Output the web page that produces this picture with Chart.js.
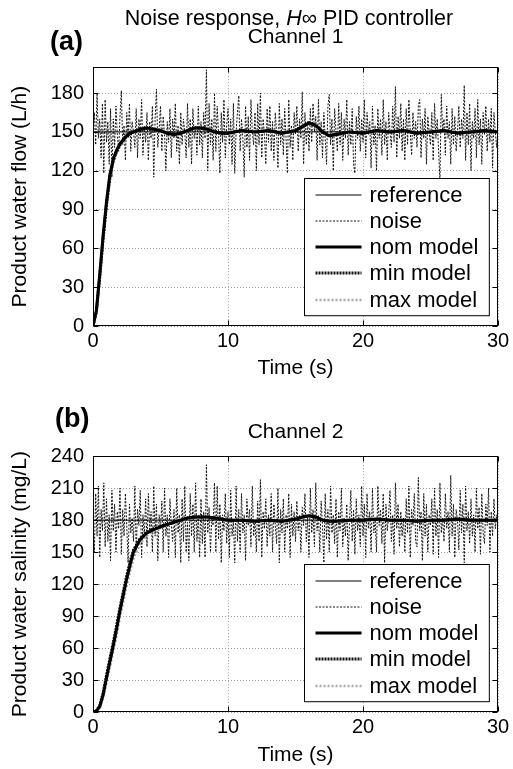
<!DOCTYPE html>
<html>
<head>
<meta charset="utf-8">
<script src="https://cdn.jsdelivr.net/npm/chart.js@4"></script>
<style>
  body { margin: 0; background: #fff; }
  #wrap { position: relative; width: 513px; height: 769px; font-family: "Liberation Sans", Arial, sans-serif; color: #000; }
  canvas { position: absolute; left: 0; }
  .lbl { position: absolute; white-space: nowrap; }
</style>
</head>
<body>
<div id="wrap">
  <canvas id="ch1" width="513" height="385" style="top:0"></canvas>
  <canvas id="ch2" width="513" height="384" style="top:385px"></canvas>
  <div class="lbl" style="left:93px;width:392px;top:6px;text-align:center;font-size:21.5px;line-height:25px">Noise response, <i>H</i>∞ PID controller</div>
  <div class="lbl" style="left:50px;top:25px;font-size:27px;font-weight:bold;line-height:32px">(a)</div>
  <div class="lbl" style="left:55px;top:402px;font-size:27px;font-weight:bold;line-height:32px">(b)</div>
</div>
<script>
// --- data ---

const seriesNames = ['reference', 'noise', 'nom model', 'min model', 'max model'];

const refTime = [0, 30];
const ch1Ref = [150, 150];
const ch2Ref = [180, 180];

// noise sampled every 0.1 s from t = 0 to 30 (one row per second)
const noiseStep = 0.1;
const ch1Noise = [
  150, 165, 140, 180, 145, 160, 130, 172, 118, 175,
  142, 158, 125, 168, 115, 160, 138, 170, 148, 135,
  162, 182, 140, 155, 128, 165, 145, 172, 135, 158,
  150, 138, 168, 130, 160, 145, 175, 132, 155, 142,
  165, 128, 158, 145, 170, 115, 160, 183, 138, 152,
  170, 135, 162, 148, 120, 158, 142, 168, 130, 160,
  145, 172, 135, 155, 125, 165, 140, 160, 150, 130,
  172, 138, 160, 125, 168, 145, 155, 132, 170, 140,
  158, 130, 165, 145, 198, 120, 172, 140, 160, 128,
  180, 135, 170, 148, 118, 165, 142, 175, 130, 155,
  168, 140, 160, 125, 172, 118, 150, 165, 178, 135,
  160, 145, 115, 170, 138, 162, 128, 175, 150, 140,
  165, 120, 172, 140, 180, 130, 160, 148, 125, 168,
  142, 170, 135, 158, 128, 165, 150, 122, 172, 140,
  160, 132, 168, 145, 118, 175, 138, 155, 128, 165,
  148, 170, 135, 160, 145, 181, 125, 165, 140, 158,
  135, 168, 142, 172, 150, 162, 128, 175, 140, 158,
  130, 165, 145, 125, 170, 179, 140, 160, 120, 168,
  150, 135, 172, 140, 165, 128, 160, 145, 175, 132,
  158, 140, 168, 125, 118, 162, 145, 170, 135, 160,
  142, 175, 130, 165, 148, 158, 122, 170, 140, 155,
  120, 168, 145, 160, 132, 175, 140, 158, 128, 165,
  150, 138, 170, 142, 185, 130, 162, 145, 172, 135,
  160, 128, 168, 140, 175, 150, 132, 165, 145, 158,
  138, 170, 175, 130, 160, 145, 168, 125, 162, 150,
  140, 165, 128, 172, 145, 160, 135, 113, 179, 150,
  160, 132, 170, 145, 158, 125, 168, 140, 162, 135,
  150, 170, 138, 160, 145, 186, 128, 165, 140, 172,
  120, 158, 145, 168, 130, 175, 140, 160, 125, 165,
  148, 170, 135, 160, 142, 168, 122, 165, 150, 138,
  152
];
const ch2Noise = [
  180, 150, 205, 165, 212, 145, 190, 170, 215, 155,
  200, 160, 185, 142, 208, 170, 195, 150, 188, 172,
  210, 148, 190, 165, 205, 175, 140, 195, 168, 182,
  160, 212, 150, 190, 175, 208, 145, 185, 165, 200,
  155, 205, 170, 188, 150, 212, 165, 195, 142, 185,
  172, 198, 150, 210, 165, 185, 145, 200, 175, 160,
  190, 145, 210, 168, 185, 140, 200, 160, 212, 150,
  178, 142, 205, 165, 195, 150, 215, 160, 185, 145,
  200, 158, 188, 145, 232, 168, 192, 150, 182, 175,
  215, 150, 212, 162, 195, 140, 185, 170, 205, 158,
  188, 145, 208, 165, 180, 140, 212, 160, 190, 150,
  205, 168, 185, 142, 200, 175, 190, 155, 212, 165,
  180, 150, 198, 160, 218, 145, 188, 172, 200, 155,
  185, 165, 205, 150, 195, 175, 158, 210, 140, 190,
  168, 200, 150, 185, 172, 205, 145, 195, 165, 188,
  160, 198, 170, 185, 150, 192, 175, 205, 160, 182,
  145, 210, 168, 190, 155, 215, 170, 185, 150, 198,
  175, 140, 205, 162, 190, 150, 212, 168, 185, 158,
  200, 145, 188, 170, 210, 155, 182, 165, 195, 142,
  178, 208, 160, 190, 148, 200, 170, 185, 155, 212,
  165, 195, 145, 205, 172, 188, 150, 210, 168, 180,
  150, 212, 175, 190, 158, 205, 140, 195, 170, 185,
  208, 160, 185, 148, 215, 172, 195, 155, 188, 165,
  182, 150, 200, 168, 212, 145, 190, 175, 205, 160,
  155, 220, 170, 188, 142, 205, 165, 195, 150, 185,
  175, 200, 148, 210, 165, 190, 145, 215, 168, 182,
  160, 205, 172, 188, 150, 222, 165, 195, 145, 190,
  180, 152, 208, 168, 195, 140, 212, 170, 188, 158,
  200, 165, 185, 150, 210, 172, 192, 148, 205, 168,
  158, 195, 175, 210, 150, 188, 165, 200, 172, 185,
  178
];

const modelTime = [
  0, 0.25, 0.5, 0.75, 1, 1.25, 1.5, 1.75, 2, 2.25, 2.5, 2.75, 3,
  3.5, 4, 4.5, 5, 5.5, 6, 6.5, 7, 7.5, 8, 8.5, 9, 9.5, 10,
  11, 12, 13, 14, 15,
  15.5, 16, 16.5, 17, 17.5, 18,
  19, 20, 21, 22, 23, 24, 25, 26, 27, 28, 29, 30
];

const ch1Nom = [
  0, 12, 40, 70, 96, 117, 129, 136, 141, 144, 147, 149, 150,
  152, 153, 152, 151, 149, 148, 149, 151, 153, 153, 152, 150, 149, 149,
  151, 150, 151, 149, 151,
  154, 157, 155, 150, 147, 148,
  150, 149, 151, 150, 151, 149, 150, 151, 149, 150, 151, 150
];
const ch1Min = [
  0, 11, 38, 68, 94, 115, 128, 135, 140, 144, 147, 149, 150,
  152, 153, 152, 151, 149, 148, 149, 151, 153, 153, 152, 150, 149, 149,
  151, 150, 151, 149, 151,
  154, 157, 155, 150, 147, 148,
  150, 149, 151, 150, 151, 149, 150, 151, 149, 150, 151, 150
];
const ch1Max = [
  0, 10, 36, 65, 91, 112, 126, 134, 139, 143, 146, 148, 150,
  152, 153, 152, 151, 150, 148, 149, 151, 152, 153, 152, 150, 149, 149,
  151, 150, 151, 149, 151,
  153, 156, 155, 151, 147, 148,
  150, 149, 151, 150, 151, 149, 150, 151, 149, 150, 151, 150
];

const ch2Nom = [
  0, 1, 5, 16, 32, 47, 62, 78, 95, 110, 125, 138, 150,
  162, 168, 171, 174, 176, 178, 180, 182, 183, 183, 183, 182, 181, 180,
  180, 179, 180, 179, 181,
  183, 184, 183, 180, 179, 179,
  180, 180, 181, 180, 180, 179, 180, 180, 181, 180, 180, 180
];
const ch2Min = [
  0, 1, 6, 18, 34, 50, 65, 81, 98, 113, 128, 141, 152,
  163, 169, 172, 174, 176, 178, 180, 182, 183, 183, 183, 182, 181, 180,
  180, 179, 180, 179, 181,
  183, 184, 183, 180, 179, 179,
  180, 180, 181, 180, 180, 179, 180, 180, 181, 180, 180, 180
];
const ch2Max = [
  0, 1, 4, 13, 28, 42, 57, 72, 89, 104, 119, 132, 144,
  158, 166, 170, 173, 175, 177, 179, 181, 182, 183, 183, 182, 181, 180,
  180, 179, 180, 179, 181,
  182, 184, 183, 181, 179, 179,
  180, 180, 181, 180, 180, 179, 180, 180, 181, 180, 180, 180
];

// --- styles ---

const FONT = '"Liberation Sans", Arial, sans-serif';
Chart.defaults.font.family = FONT;
Chart.defaults.color = '#000';

const LINE_STYLES = [
  { borderColor: '#000', borderWidth: 1, borderDash: [], order: 4 },
  { borderColor: '#111', borderWidth: 1, borderDash: [2, 1.5], order: 5 },
  { borderColor: '#000', borderWidth: 3, borderDash: [], order: 1 },
  { borderColor: '#111', borderWidth: 3, borderDash: [2, 1], order: 2 },
  { borderColor: '#a8a8a8', borderWidth: 2.5, borderDash: [2, 2], order: 3 }
];

const pairs = (xs, ys) => ys.map((y, i) => ({ x: xs[i], y }));
const sampled = (ys) => ys.map((y, i) => ({ x: i * noiseStep, y }));

// box with inward ticks, like a matlab axes
const boxPlugin = {
  id: 'axesBox',
  afterDraw(chart) {
    const { ctx, chartArea: a, scales } = chart;
    const L = Math.round(a.left) + 0.5, R = Math.round(a.right) - 0.5;
    const T = Math.round(a.top) + 0.5, B = Math.round(a.bottom) - 0.5;
    ctx.save();
    ctx.strokeStyle = '#000';
    ctx.lineWidth = 1;
    ctx.beginPath();
    scales.x.ticks.forEach(t => {
      const px = Math.round(scales.x.getPixelForValue(t.value)) + 0.5;
      ctx.moveTo(px, T); ctx.lineTo(px, T + 5);
      ctx.moveTo(px, B); ctx.lineTo(px, B - 5);
    });
    scales.y.ticks.forEach(t => {
      const py = Math.round(scales.y.getPixelForValue(t.value)) + 0.5;
      ctx.moveTo(L, py); ctx.lineTo(L + 5, py);
      ctx.moveTo(R, py); ctx.lineTo(R - 5, py);
    });
    ctx.stroke();
    ctx.strokeRect(L, T, R - L, B - T);
    ctx.restore();
  }
};

// legend drawn inside the plot, bottom right
const insideLegend = {
  id: 'insideLegend',
  afterDraw(chart, args, opts) {
    const { ctx, chartArea: a } = chart;
    const sets = chart.data.datasets;
    ctx.save();
    ctx.font = '22px ' + FONT;
    const textW = Math.max(...sets.map(d => ctx.measureText(d.label).width));
    const rowH = 26.3, padY = 16;
    const w = 66 + textW + 10;
    const h = padY * 2 + rowH * (sets.length - 1);
    const x = Math.round(a.right - opts.right - w) + 0.5;
    const y = Math.round(a.bottom - opts.bottom - h) + 0.5;
    ctx.fillStyle = '#fff';
    ctx.fillRect(x, y, w, h);
    ctx.strokeStyle = '#000';
    ctx.lineWidth = 1;
    ctx.strokeRect(x, y, w, h);
    ctx.textBaseline = 'middle';
    ctx.fillStyle = '#000';
    sets.forEach((d, i) => {
      const cy = Math.round(y + padY + i * rowH);
      ctx.save();
      ctx.strokeStyle = d.borderColor;
      ctx.lineWidth = d.borderWidth;
      ctx.setLineDash(d.borderDash);
      ctx.beginPath();
      ctx.moveTo(x + 11, cy);
      ctx.lineTo(x + 57, cy);
      ctx.stroke();
      ctx.restore();
      ctx.fillText(d.label, x + 65, cy + 1);
    });
    ctx.restore();
  }
};

function makeChart(el, cfg) {
  const series = [
    pairs(refTime, cfg.ref),
    sampled(cfg.noise),
    pairs(modelTime, cfg.nom),
    pairs(modelTime, cfg.min),
    pairs(modelTime, cfg.max)
  ];
  return new Chart(el, {
    type: 'line',
    data: {
      datasets: series.map((data, i) => ({
        label: seriesNames[i],
        data,
        fill: false,
        pointRadius: 0,
        tension: 0,
        ...LINE_STYLES[i]
      }))
    },
    options: {
      responsive: false,
      animation: false,
      events: [],
      layout: { padding: { top: cfg.padTop, right: 15, bottom: 0, left: 0 } },
      scales: {
        x: {
          type: 'linear',
          min: 0,
          max: 30,
          afterFit: s => { s.height = cfg.xHeight; },
          ticks: { stepSize: 10, padding: 3, maxRotation: 0, font: { size: 20 } },
          grid: { color: '#a0a0a0', drawTicks: false },
          border: { display: false, dash: [1, 2] },
          title: { display: true, text: 'Time (s)', font: { size: 21 }, padding: { top: 0, bottom: cfg.xTitlePad } }
        },
        y: {
          min: 0,
          max: cfg.yMax,
          afterFit: s => { s.width = 93; },
          ticks: { stepSize: 30, includeBounds: false, padding: 9, font: { size: 20 } },
          grid: { color: '#a0a0a0', drawTicks: false },
          border: { display: false, dash: [1, 2] },
          title: { display: true, text: cfg.yLabel, font: { size: 21 }, padding: { top: 8, bottom: 0 } }
        }
      },
      plugins: {
        legend: { display: false },
        tooltip: { enabled: false },
        title: {
          display: true,
          text: cfg.title,
          fullSize: false,
          font: { size: 21, weight: 'normal' },
          padding: { top: 0, bottom: cfg.titlePad }
        },
        insideLegend: { right: 9, bottom: 11 }
      }
    },
    plugins: [boxPlugin, insideLegend]
  });
}

makeChart(document.getElementById('ch1'), {
  title: 'Channel 1', yLabel: 'Product water flow (L/h)', yMax: 200,
  ref: ch1Ref, noise: ch1Noise, nom: ch1Nom, min: ch1Min, max: ch1Max,
  padTop: 25, titlePad: 17, xHeight: 59, xTitlePad: 4
});

makeChart(document.getElementById('ch2'), {
  title: 'Channel 2', yLabel: 'Product water salinity (mg/L)', yMax: 240,
  ref: ch2Ref, noise: ch2Noise, nom: ch2Nom, min: ch2Min, max: ch2Max,
  padTop: 35, titlePad: 11, xHeight: 57, xTitlePad: 1
});
</script>
</body>
</html>
